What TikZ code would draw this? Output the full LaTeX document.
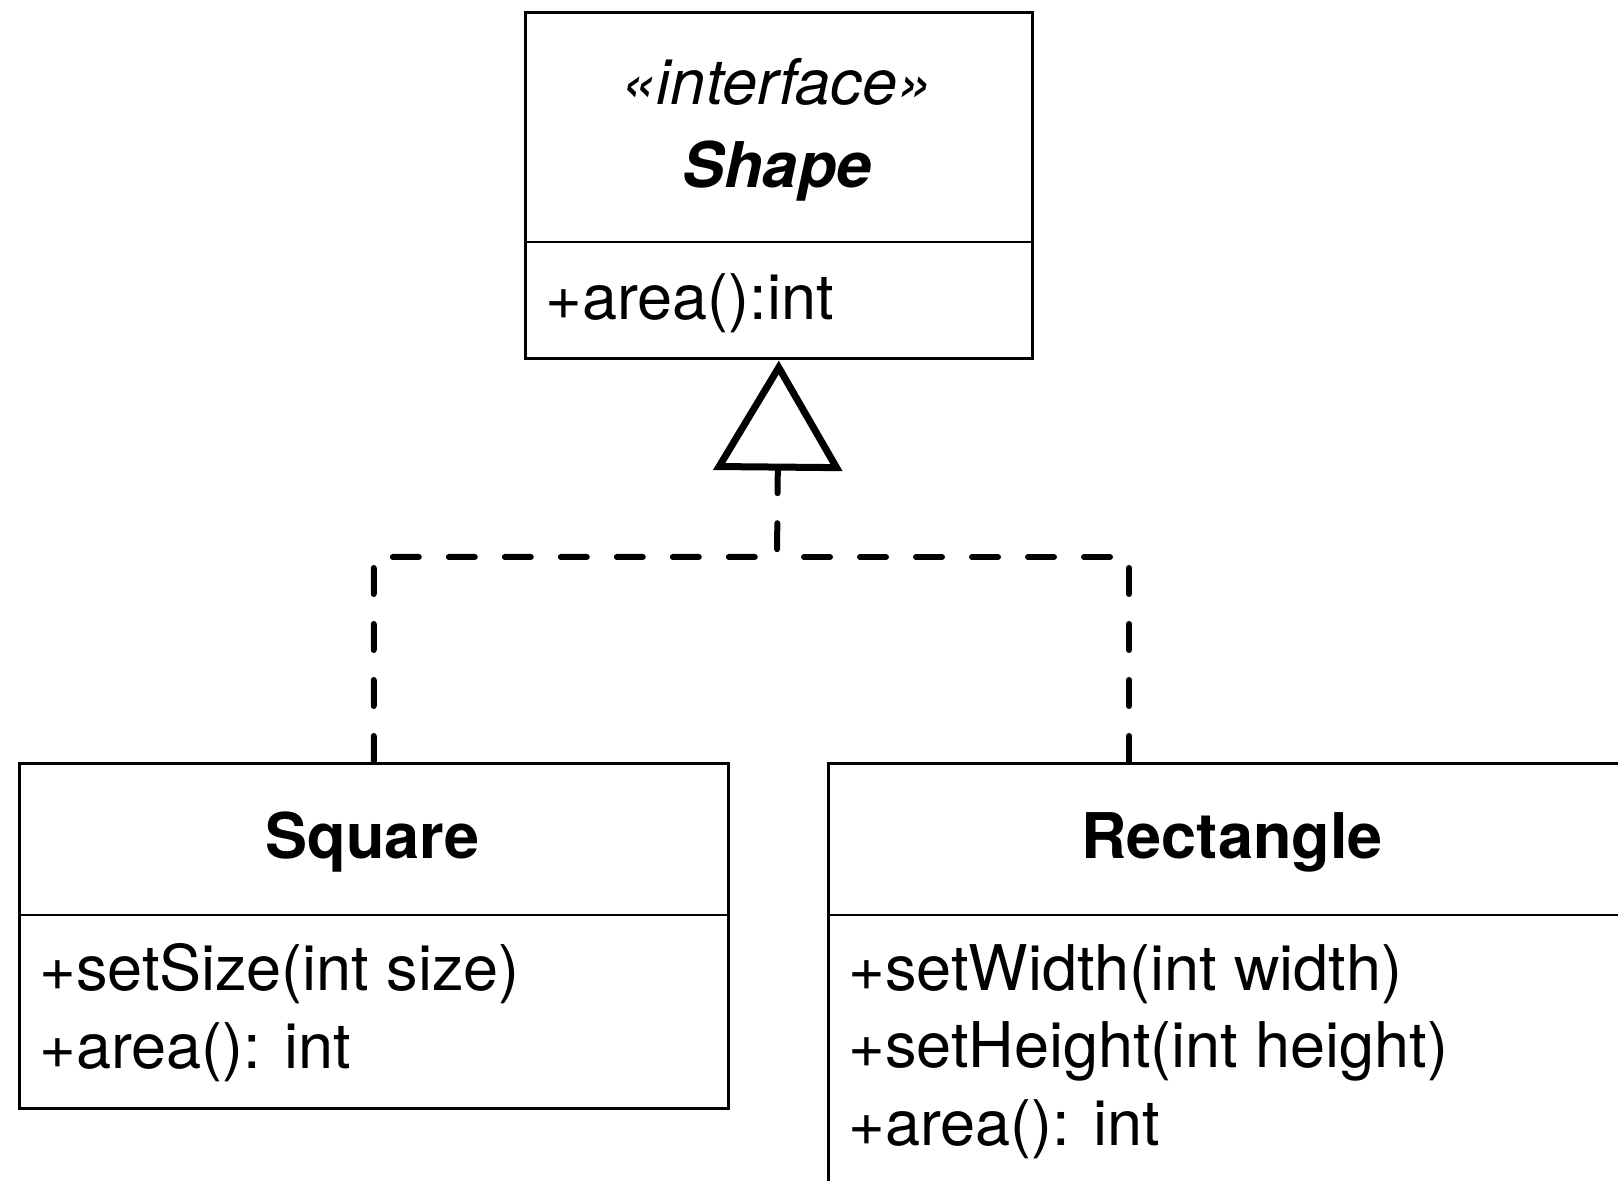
\documentclass[tikz,border=0pt]{standalone}
\usepackage{fontspec}
\setmainfont{TeX Gyre Heros}
\usetikzlibrary{arrows.meta}
\newcommand\umlfs{\fontsize{31.5}{37}\selectfont}
\begin{document}
\begin{tikzpicture}[x=0.5pt,y=-0.5pt,
  box/.style={draw=black, line width=1.3pt, fill=white, rectangle, inner sep=0pt, anchor=north west},
  divider/.style={draw=black, line width=1.3pt},
  lbl/.style={inner sep=0pt, font=\umlfs},
  lblit/.style={inner sep=0pt, font=\umlfs\itshape},
  lblbit/.style={inner sep=0pt, font=\umlfs\bfseries\itshape},
  lblb/.style={inner sep=0pt, font=\umlfs\bfseries},
  dep/.style={line width=3pt, dash pattern=on 13pt off 15pt, line cap=round, line join=miter},
  realize/.style={-{Triangle[open, length=55pt, width=64pt, line width=3.5pt, line join=miter]}}
]
\useasboundingbox (0,0) rectangle (1618,1181);
\fill[white] (0,0) rectangle (1618,1181);

% Shape interface
\node[box, minimum width=253.5pt, minimum height=173pt] (shape) at (524,11) {};
\draw[divider] (524,242) -- (1031,242);
\node[lblit, anchor=base] (stereo) at (777,105) {«interface»};
\node[lblbit, anchor=base] (shapename) at (777,188) {Shape};
\node[lbl, anchor=base west] (shapeop) at (545,320) {+area():int};

% Square
\node[box, minimum width=354.5pt, minimum height=172.5pt] (square) at (18,762) {};
\draw[divider] (18,915) -- (727,915);
\node[lblb, anchor=base] (squarename) at (372.5,858) {Square};
\node[lbl, anchor=base west] (sqop1) at (39,990) {+setSize(int size)};
\node[lbl, anchor=base west] (sqop2) at (39,1068) {+area(): int};

% Rectangle
\node[box, minimum width=405pt, minimum height=230pt] (rect) at (827,762) {};
\draw[divider] (827,915) -- (1640,915);
\node[lblb, anchor=base] (rectname) at (1232,858) {Rectangle};
\node[lbl, anchor=base west] (rcop1) at (848,990) {+setWidth(int width)};
\node[lbl, anchor=base west] (rcop2) at (848,1067) {+setHeight(int height)};
\node[lbl, anchor=base west] (rcop3) at (848,1145) {+area(): int};

% Realization connectors
\coordinate (junc) at (777,557);
\coordinate (rectport) at (1129,762);
\draw[dep] (rectport) |- (junc);
\draw[dep, realize] (square.north) |- (junc) -- ([yshift=-0.5pt]shape.south);
\end{tikzpicture}
\end{document}
